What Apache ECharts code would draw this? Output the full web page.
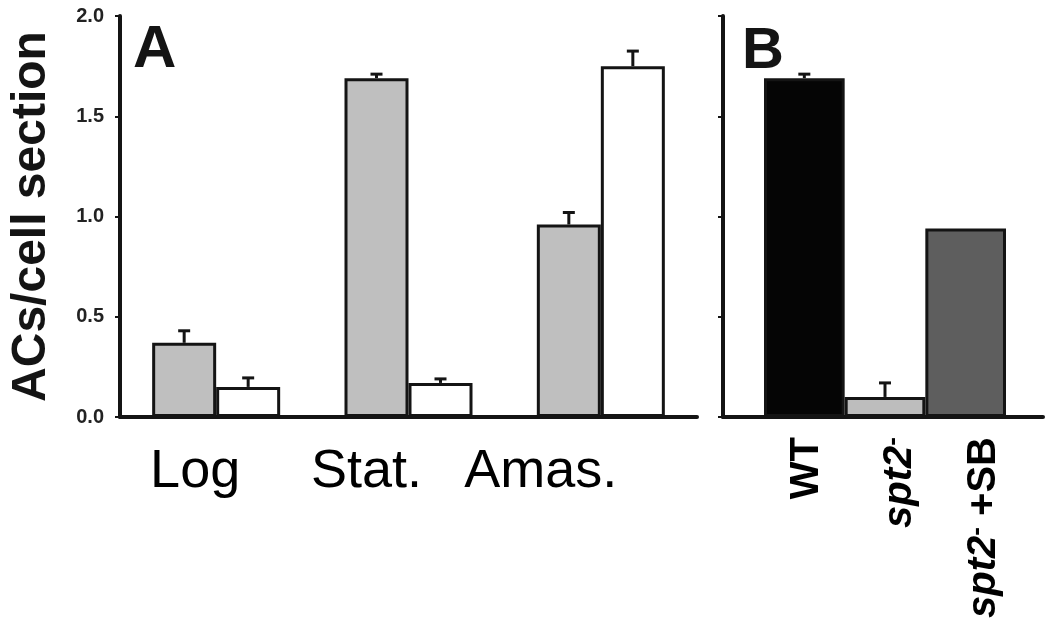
<!DOCTYPE html>
<html>
<head>
<meta charset="utf-8">
<script src="https://cdn.jsdelivr.net/npm/echarts@6/dist/echarts.min.js"></script>
<style>
  html, body { margin: 0; padding: 0; background: #fff; }
  #chart { width: 1050px; height: 626px; }
</style>
</head>
<body>
<div id="chart"></div>
<script>
// panel A
const aCategories = ["Log", "Stat.", "Amas."];
const aGray = [0.37, 1.69, 0.96];
const aGrayErr = [0.06, 0.02, 0.06];
const aWhite = [0.15, 0.17, 1.75];
const aWhiteErr = [0.045, 0.02, 0.075];
// panel B
const bCategories = ["WT", "spt2", "spt2 +SB"];
const bValues = [1.69, 0.10, 0.94];
const bErr = [0.02, 0.07, null];
const yTicks = [0, 0.5, 1.0, 1.5, 2.0];

const FONT = "'Liberation Sans', Arial, sans-serif";
const INK = "#141414";
const bFills = ["#050505", "#bdbdbd", "#5e5e5e"];
const aLabelShift = [42, 84, 120];
const bLabelShift = [6, 30, 36];
const BAR_W = 64;

const myChart = echarts.init(document.getElementById("chart"));

function errorItem(offset) {
  return function (params, api) {
    const err = api.value(2);
    if (err == null || isNaN(err)) return;
    const top = api.coord([api.value(0), api.value(1) + err]);
    const base = api.coord([api.value(0), api.value(1)]);
    const x = top[0] + offset;
    const style = { stroke: INK, lineWidth: 3 };
    return {
      type: "group",
      children: [
        { type: "line", shape: { x1: x, y1: base[1], x2: x, y2: top[1] }, style: style },
        { type: "line", shape: { x1: x - 6, y1: top[1], x2: x + 6, y2: top[1] }, style: style },
      ],
    };
  };
}

function errData(vals, errs) {
  return vals.map((v, i) => [i, v, errs[i]]);
}

const aRich = {};
aLabelShift.forEach((p, i) => {
  aRich["p" + i] = { fontSize: 54, fontFamily: FONT, color: "#000", padding: [0, p, 0, 0] };
});
const bRich = {};
bLabelShift.forEach((p, i) => {
  bRich["b" + i] = { fontSize: 40, fontWeight: "bold", fontFamily: FONT, color: "#000", padding: [p, 0, 0, 0] };
  bRich["i" + i] = { fontSize: 40, fontWeight: "bold", fontStyle: "italic", fontFamily: FONT, color: "#000", padding: [p, 0, 0, 0] };
  bRich["s" + i] = { fontSize: 26, fontWeight: "bold", fontFamily: FONT, color: "#000", verticalAlign: "top", padding: [p, 0, 14, 0] };
});

myChart.setOption({
  backgroundColor: "#fff",
  animation: false,
  title: [
    { text: "A", left: 128, top: 15, textStyle: { fontSize: 60, fontWeight: "bold", fontFamily: FONT, color: INK } },
    { text: "B", left: 737, top: 18, textStyle: { fontSize: 58, fontWeight: "bold", fontFamily: FONT, color: INK } },
  ],
  grid: [
    { left: 118, top: 16, width: 579, height: 401 },
    { left: 723, top: 16, width: 320, height: 401 },
    { left: 764, top: 16, width: 242, height: 401 },
  ],
  xAxis: [
    {
      gridIndex: 0,
      type: "category",
      data: aCategories,
      axisLine: { lineStyle: { color: INK, width: 4 } },
      axisTick: { show: false },
      axisLabel: {
        margin: 28,
        formatter: (v, i) => "{p" + i + "|" + v + "}",
        rich: aRich,
      },
    },
    {
      gridIndex: 1,
      type: "value",
      min: 0,
      max: 1,
      axisLine: { show: true, lineStyle: { color: INK, width: 4 } },
      axisTick: { show: false },
      axisLabel: { show: false },
      splitLine: { show: false },
    },
    {
      gridIndex: 2,
      type: "category",
      data: bCategories,
      axisLine: { show: false },
      axisTick: { show: false },
      axisLabel: {
        rotate: 90,
        margin: 20,
        formatter: (v, i) => {
          if (v.indexOf("spt2") === 0) {
            return "{i" + i + "|spt2}{s" + i + "|-}{b" + i + "|" + v.slice(4) + "}";
          }
          return "{b" + i + "|" + v + "}";
        },
        rich: bRich,
      },
    },
  ],
  yAxis: [
    {
      gridIndex: 0,
      type: "value",
      min: 0,
      max: 2,
      interval: 0.5,
      name: "ACs/cell section",
      nameLocation: "middle",
      nameGap: 64,
      nameTextStyle: { fontSize: 48, fontWeight: "bold", fontFamily: FONT, color: INK },
      axisLine: { show: true, lineStyle: { color: INK, width: 4 } },
      axisTick: { show: true, length: 5, lineStyle: { color: INK, width: 2 } },
      axisLabel: {
        margin: 16,
        fontSize: 20,
        fontWeight: "bold",
        fontFamily: FONT,
        color: "#222",
        formatter: (v) => yTicks.includes(v) ? v.toFixed(1) : "",
      },
      splitLine: { show: false },
    },
    {
      gridIndex: 1,
      type: "value",
      min: 0,
      max: 2,
      interval: 0.5,
      axisLine: { show: true, lineStyle: { color: INK, width: 4 } },
      axisTick: { show: true, length: 5, lineStyle: { color: INK, width: 2 } },
      axisLabel: { show: false },
      splitLine: { show: false },
    },
    {
      gridIndex: 2,
      type: "value",
      min: 0,
      max: 2,
      show: false,
      splitLine: { show: false },
    },
  ],
  series: [
    {
      type: "bar",
      xAxisIndex: 0,
      yAxisIndex: 0,
      data: aGray,
      barWidth: BAR_W,
      barGap: "0%",
      itemStyle: { color: "#bfbfbf", borderColor: INK, borderWidth: 3 },
    },
    {
      type: "bar",
      xAxisIndex: 0,
      yAxisIndex: 0,
      data: aWhite,
      barWidth: BAR_W,
      barGap: "0%",
      itemStyle: { color: "#ffffff", borderColor: INK, borderWidth: 3 },
    },
    {
      type: "custom",
      xAxisIndex: 0,
      yAxisIndex: 0,
      renderItem: errorItem(-BAR_W / 2),
      data: errData(aGray, aGrayErr),
      z: 3,
    },
    {
      type: "custom",
      xAxisIndex: 0,
      yAxisIndex: 0,
      renderItem: errorItem(BAR_W / 2),
      data: errData(aWhite, aWhiteErr),
      z: 3,
    },
    {
      type: "bar",
      xAxisIndex: 2,
      yAxisIndex: 2,
      data: bValues,
      barWidth: "100%",
      barCategoryGap: "0%",
      itemStyle: {
        color: (p) => bFills[p.dataIndex],
        borderColor: INK,
        borderWidth: 3,
      },
    },
    {
      type: "custom",
      xAxisIndex: 2,
      yAxisIndex: 2,
      renderItem: errorItem(0),
      data: errData(bValues, bErr),
      z: 3,
    },
  ],
});
</script>
</body>
</html>
